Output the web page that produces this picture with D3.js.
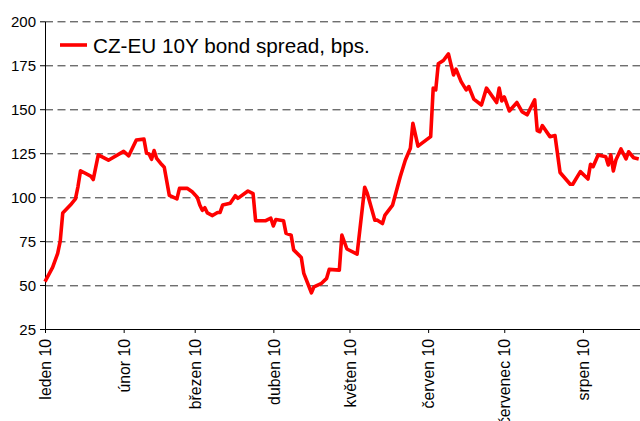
<html>
<head>
  <script src="https://d3js.org/d3.v7.min.js"></script>
  <style>
    body { margin: 0; background: #ffffff; }
    .axis text { font-family: "Liberation Sans", Arial, sans-serif; font-size: 15px; fill: #000; }
    .axis line, .axis path { stroke: #000; }
  </style>
</head>
<body>
<div id="chart"></div>
<script>

// data (date, spread in bps)
var dates = ["2010-01-01","2010-01-04","2010-01-06","2010-01-07","2010-01-08","2010-01-11","2010-01-13","2010-01-14",
  "2010-01-15","2010-01-19","2010-01-20","2010-01-22","2010-01-26","2010-02-01","2010-02-03","2010-02-05",
  "2010-02-06","2010-02-09","2010-02-10","2010-02-11","2010-02-12","2010-02-13","2010-02-14","2010-02-16",
  "2010-02-17","2010-02-19","2010-02-22","2010-02-23","2010-02-26","2010-02-28","2010-03-02","2010-03-03",
  "2010-03-04","2010-03-05","2010-03-06","2010-03-08","2010-03-10","2010-03-11","2010-03-12","2010-03-15",
  "2010-03-17","2010-03-18","2010-03-22","2010-03-24","2010-03-25","2010-03-29","2010-03-31","2010-04-01",
  "2010-04-02","2010-04-05","2010-04-06","2010-04-08","2010-04-09","2010-04-12","2010-04-13","2010-04-16",
  "2010-04-17","2010-04-20","2010-04-22","2010-04-23","2010-04-27","2010-04-28","2010-04-30","2010-05-04",
  "2010-05-07","2010-05-08","2010-05-11","2010-05-12","2010-05-14","2010-05-15","2010-05-18","2010-05-21",
  "2010-05-23","2010-05-25","2010-05-26","2010-05-28","2010-06-02","2010-06-03","2010-06-04","2010-06-05",
  "2010-06-07","2010-06-09","2010-06-11","2010-06-12","2010-06-14","2010-06-16","2010-06-17","2010-06-19",
  "2010-06-22","2010-06-24","2010-06-28","2010-06-29","2010-06-30","2010-07-01","2010-07-03","2010-07-06",
  "2010-07-08","2010-07-10","2010-07-13","2010-07-14","2010-07-15","2010-07-16","2010-07-19","2010-07-21",
  "2010-07-23","2010-07-27","2010-07-28","2010-07-31","2010-08-03","2010-08-04","2010-08-05","2010-08-07",
  "2010-08-10","2010-08-11","2010-08-12","2010-08-13","2010-08-14","2010-08-16","2010-08-18","2010-08-19",
  "2010-08-21","2010-08-23"];

var spread = [52,60,68,75,91,95.5,99,106,
  115,112,110,124,121,126,123.5,129.5,
  132.5,133,125,124.5,121.5,126.5,122,118.5,
  117,101,99,105,105,103,100,95.5,
  92.5,94,91,89.5,91.3,91.3,95.5,96.5,
  100.8,99.3,103.5,102,86.6,86.6,88,83.6,
  87.3,86.6,79.4,78.4,70,65.7,56.6,45.6,
  49,51,53.8,58.9,58.5,78.4,70.5,67.6,
  105.6,102.2,86.9,86.9,85,89.8,95.5,111.6,
  121,127.8,142,129,134.4,162,161,175.8,
  177.7,181.5,169.5,172.8,165.7,161,162.9,155.7,
  152.4,162,153.8,162,154.7,157,149,153.8,
  148.6,146.8,155.3,137.8,137.2,140.7,134.4,135,
  114,107.3,107.3,114.5,110.3,118.7,117.3,124,
  123,118.3,124,114.9,121.1,127.4,121.7,125.8,
  122.4,121.7];

var monthStarts = ["2010-01-01","2010-02-01","2010-03-01","2010-04-01","2010-05-01","2010-06-01","2010-07-01","2010-08-01"];
var monthLabels = ["leden 10","únor 10","březen 10","duben 10","květen 10","červen 10","červenec 10","srpen 10"];
var yTicks = [25,50,75,100,125,150,175,200];
var seriesName = "CZ-EU 10Y bond spread, bps.";

var parse = d3.timeParse("%Y-%m-%d");

var margin = { top: 21.3, right: 0, bottom: 92, left: 45 },
  width = 640 - margin.left - margin.right,
  height = 421 - margin.top - margin.bottom;

var svg = d3.select("#chart")
  .append("svg")
  .attr("width", 640)
  .attr("height", 421)
  .append("g")
  .attr("transform", "translate(" + margin.left + "," + margin.top + ")");

var x = d3.scaleTime()
  .domain([parse("2010-01-01"), new Date(2010, 7, 23, 12)])
  .range([0, width]);

var y = d3.scaleLinear()
  .domain([25, 200])
  .range([height, 0]);

// dashed gridlines
svg.append("g")
  .selectAll("line")
  .data(yTicks.filter(function (d) { return d > 25; }))
  .enter()
  .append("line")
  .attr("x1", 0)
  .attr("x2", width)
  .attr("y1", function (d) { return Math.round(y(d)) + 0.5; })
  .attr("y2", function (d) { return Math.round(y(d)) + 0.5; })
  .style("stroke", "#333333")
  .style("stroke-width", 1)
  .style("stroke-dasharray", "8,4.5");

// y axis
svg.append("g")
  .attr("class", "axis")
  .call(d3.axisLeft(y).tickValues(yTicks).tickSize(5).tickSizeOuter(0).tickPadding(4))
  .call(function (g) { g.selectAll("text").attr("dy", "0.36em"); });

// x axis
svg.append("g")
  .attr("class", "axis")
  .attr("transform", "translate(0," + height + ")")
  .call(d3.axisBottom(x)
    .tickValues(monthStarts.map(parse))
    .tickFormat(function (d, i) { return monthLabels[i]; })
    .tickSize(4)
    .tickSizeOuter(0))
  .selectAll("text")
  .attr("transform", "rotate(-90)")
  .attr("x", -10)
  .attr("y", 0)
  .attr("dy", "0.36em")
  .style("font-size", "15.8px")
  .style("text-anchor", "end");

// the line
var data = dates.map(function (d, i) { return { date: parse(d), value: spread[i] }; });

var line = d3.line()
  .x(function (d) { return x(d.date); })
  .y(function (d) { return y(d.value); });

svg.append("path")
  .datum(data)
  .attr("d", line)
  .style("fill", "none")
  .style("stroke", "#ff0000")
  .style("stroke-width", 3.6)
  .style("stroke-linejoin", "round");

// legend
var legend = svg.append("g").attr("transform", "translate(15," + (45 - margin.top) + ")");
legend.append("line")
  .attr("x1", 0).attr("x2", 27)
  .attr("y1", 0).attr("y2", 0)
  .style("stroke", "#ff0000")
  .style("stroke-width", 3.6);
legend.append("text")
  .attr("x", 33)
  .attr("y", 7.7)
  .style("font-family", "Liberation Sans, Arial, sans-serif")
  .style("font-size", "20.7px")
  .style("fill", "#000")
  .text(seriesName);

</script>
</body>
</html>
